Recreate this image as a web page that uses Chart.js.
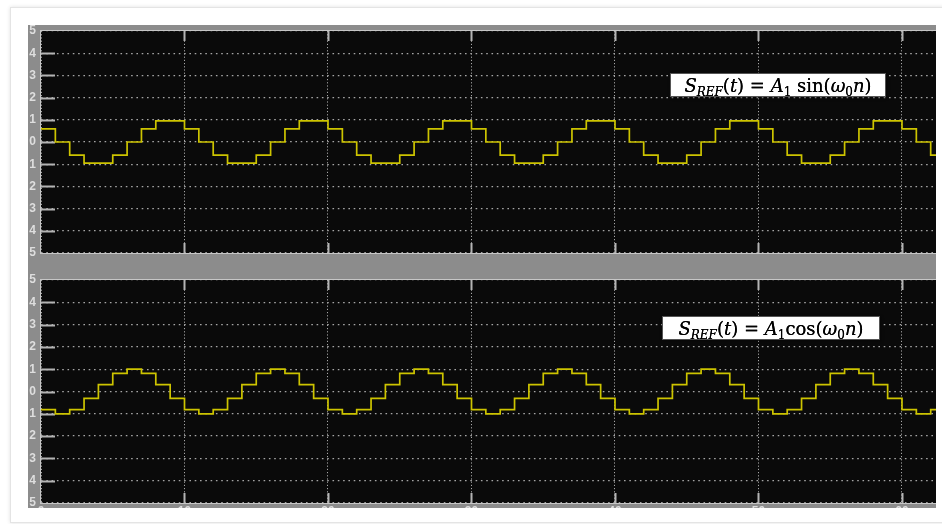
<!DOCTYPE html>
<html><head><meta charset="utf-8">
<script src="https://cdn.jsdelivr.net/npm/chart.js@4.4.1/dist/chart.umd.min.js"></script>
<style>
html,body{margin:0;padding:0;background:#fff;width:942px;height:524px;overflow:hidden;position:relative;}
#page{position:absolute;left:10px;top:7px;width:940px;height:514px;border:1px solid #e4e4e4;box-shadow:0 0 4px rgba(0,0,0,0.12);background:#fff;}
#frame{position:absolute;left:28px;top:25px;width:908px;height:483px;background:#8c8c8c;overflow:hidden;}
#w1{position:absolute;left:0;top:0;width:908px;height:241px;}
#w2{position:absolute;left:0;top:241px;width:908px;height:258px;}
canvas{display:block;}
.eq{position:absolute;background:#fff;border:1px solid #555;box-shadow:1px 1px 3px rgba(0,0,0,0.45);font-family:"DejaVu Serif",serif;font-size:18px;color:#000;text-shadow:0 0 0.6px #000;display:flex;align-items:center;justify-content:center;white-space:nowrap;}
.eq .sb{font-size:12px;position:relative;top:4px;}
</style>
</head><body>
<div id="page"></div>
<div id="frame">
  <div id="w1"><canvas id="c1" width="908" height="241"></canvas></div>
  <div id="w2"><canvas id="c2" width="908" height="258"></canvas></div>
</div>
<div class="eq" style="left:670px;top:73px;width:214px;height:22px;"><span><i>S</i><i class="sb">REF</i>(<i>t</i>) = <i>A</i><span class="sb">1</span> sin(<i>ω</i><span class="sb">0</span><i>n</i>)</span></div>
<div class="eq" style="left:662px;top:316px;width:216px;height:22px;"><span><i>S</i><i class="sb">REF</i>(<i>t</i>) = <i>A</i><span class="sb">1</span>cos(<i>ω</i><span class="sb">0</span><i>n</i>)</span></div>
<script>
// ---- data ----
const sampleIndex = [0,1,2,3,4,5,6,7,8,9,10,11,12,13,14,15,16,17,18,19,20,21,22,23,24,25,26,27,28,29,30,31,32,33,34,35,36,37,38,39,40,41,42,43,44,45,46,47,48,49,50,51,52,53,54,55,56,57,58,59,60,61,62,63];
const sinValues = [
  0.59,0,-0.59,-0.95,-0.95,-0.59,0,0.59,0.95,0.95,
  0.59,0,-0.59,-0.95,-0.95,-0.59,0,0.59,0.95,0.95,
  0.59,0,-0.59,-0.95,-0.95,-0.59,0,0.59,0.95,0.95,
  0.59,0,-0.59,-0.95,-0.95,-0.59,0,0.59,0.95,0.95,
  0.59,0,-0.59,-0.95,-0.95,-0.59,0,0.59,0.95,0.95,
  0.59,0,-0.59,-0.95,-0.95,-0.59,0,0.59,0.95,0.95,
  0.59,0,-0.59,-0.95];
const cosValues = [
  -0.81,-1,-0.81,-0.31,0.31,0.81,1,0.81,0.31,-0.31,
  -0.81,-1,-0.81,-0.31,0.31,0.81,1,0.81,0.31,-0.31,
  -0.81,-1,-0.81,-0.31,0.31,0.81,1,0.81,0.31,-0.31,
  -0.81,-1,-0.81,-0.31,0.31,0.81,1,0.81,0.31,-0.31,
  -0.81,-1,-0.81,-0.31,0.31,0.81,1,0.81,0.31,-0.31,
  -0.81,-1,-0.81,-0.31,0.31,0.81,1,0.81,0.31,-0.31,
  -0.81,-1,-0.81,-0.31];
const xTicks = [0,10,20,30,40,50,60];
const yTicks = [-5,-4,-3,-2,-1,0,1,2,3,4,5];
const xMin = 0, xMax = 62.37, yMin = -5, yMax = 5;

const LINE = '#cdc400', GRID = '#a6a6a6', TICKC = '#b4b4b4', LBL = '#dedede';
const FONT = {family:'"Liberation Sans", Arial, sans-serif', size:12, weight:'bold'};

const scopePlugin = {
  id:'scope',
  beforeDraw(chart){
    const {ctx, chartArea:a, width, height} = chart;
    ctx.save();
    ctx.fillStyle = '#8c8c8c'; ctx.fillRect(0,0,width,height);
    ctx.fillStyle = '#0a0a0a'; ctx.fillRect(a.left,a.top,a.right-a.left,a.bottom-a.top);
    ctx.restore();
  },
  beforeDatasetsDraw(chart){
    const {ctx, chartArea:a, scales} = chart;
    ctx.save();
    ctx.strokeStyle = TICKC; ctx.lineWidth = 2;
    yTicks.forEach(v=>{
      if (v===yMin||v===yMax) return;
      const y = Math.round(scales.y.getPixelForValue(v))+0.5;
      ctx.beginPath(); ctx.moveTo(a.left, y); ctx.lineTo(a.left+14, y); ctx.stroke();
    });
    xTicks.forEach(v=>{
      if (v===xMin) return;
      const x = Math.round(scales.x.getPixelForValue(v))+0.5;
      ctx.beginPath(); ctx.moveTo(x, a.top); ctx.lineTo(x, a.top+10); ctx.stroke();
      ctx.beginPath(); ctx.moveTo(x, a.bottom); ctx.lineTo(x, a.bottom-10); ctx.stroke();
    });
    ctx.restore();
  },
  afterDraw(chart){
    const {ctx, chartArea:a} = chart;
    ctx.save();
    ctx.strokeStyle = '#c6c6c6'; ctx.lineWidth = 1;
    ctx.strokeRect(a.left-0.5, a.top-0.5, a.right-a.left+1, a.bottom-a.top+1);
    ctx.restore();
  }
};

function makeChart(id, values, showX, padTop, padBottom, xHeight){
  const pts = sampleIndex.map((n,i)=>({x:n, y:values[i]}));
  return new Chart(document.getElementById(id), {
    type:'line',
    data:{datasets:[{data:pts, stepped:'before', borderColor:LINE, borderWidth:1.7, pointRadius:0, fill:false, tension:0}]},
    options:{
      responsive:false, animation:false, devicePixelRatio:1,
      layout:{padding:{top:padTop, bottom:padBottom, left:0, right:0}},
      plugins:{legend:{display:false}, tooltip:{enabled:false}},
      scales:{
        x:{type:'linear', min:xMin, max:xMax,
           afterFit:s=>{s.height = xHeight; s.paddingLeft = 0; s.paddingRight = 0;},
           afterBuildTicks:s=>{s.ticks = xTicks.map(v=>({value:v}));},
           ticks:{display:showX, padding:1, color:LBL, font:FONT, maxRotation:0, autoSkip:false, callback:v=>String(v)},
           grid:{color:GRID, drawTicks:false, lineWidth:1},
           border:{display:false, dash:[1.2,2]}},
        y:{min:yMin, max:yMax,
           afterFit:s=>{s.width = 13; s.paddingTop = 0; s.paddingBottom = 0;},
           afterBuildTicks:s=>{s.ticks = yTicks.map(v=>({value:v}));},
           ticks:{padding:5, color:LBL, font:FONT, autoSkip:false, callback:v=>String(Math.abs(v))},
           grid:{color:GRID, drawTicks:false, lineWidth:1.3},
           border:{display:false, dash:[1.6,3.7]}}
      }
    },
    plugins:[scopePlugin]
  });
}
makeChart('c1', sinValues, false, 6, 13, 0);
makeChart('c2', cosValues, true, 14, 0, 21);
</script>
</body></html>
